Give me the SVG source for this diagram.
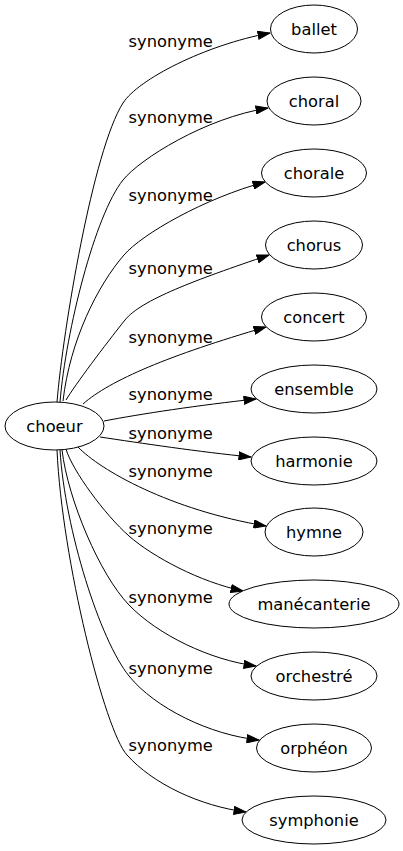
<svg xmlns="http://www.w3.org/2000/svg" width="403" height="851" viewBox="0 0 403 851">
<style>
  .node ellipse { fill: #ffffff; stroke: #000000; stroke-width: 1; }
  .node text { font-family: "DejaVu Sans", sans-serif; font-size: 16.3px; fill: #000000; text-anchor: middle; }
  .edges path { fill: none; stroke: #000000; stroke-width: 1; marker-end: url(#arrow); }
  .edges text { font-family: "DejaVu Sans", sans-serif; font-size: 16.3px; fill: #000000; text-anchor: middle; }
</style>
<defs>
  <marker id="arrow" markerUnits="userSpaceOnUse" viewBox="0 0 13 9" markerWidth="13" markerHeight="9" refX="12.5" refY="4.5" orient="auto">
    <path d="M0.5,0.5 L12.5,4.5 L0.5,8.5 Z" fill="#000000" stroke="#000000" stroke-width="1"/>
  </marker>
</defs>
<rect width="403" height="851" fill="#ffffff"/>
<g class="edges" id="edges">
  <path d="M57,402 C63,330 93,150 123,103 C138,79.5 205,45 270,33"/>
  <text x="170.7" y="46.7">synonyme</text>
  <path d="M60,402 C66,330 95,215 123,180 C140,159 205,118 268,108"/>
  <text x="170.7" y="123.3">synonyme</text>
  <path d="M63,401 C70,340 98,285 124,255 C142,234 205,198 265,182"/>
  <text x="170.7" y="200.7">synonyme</text>
  <path d="M66,400 C75,385 105,345 125,320 C141,300 195,280 269,255"/>
  <text x="170.7" y="274">synonyme</text>
  <path d="M83,404 C110,380 170,355 266,327"/>
  <text x="170.7" y="343.3">synonyme</text>
  <path d="M104,421 C140,414 200,405 256,399"/>
  <text x="170.7" y="400">synonyme</text>
  <path d="M100,437 C140,443 200,452 251,457"/>
  <text x="170.7" y="439.3">synonyme</text>
  <path d="M78,447 C100,470 170,510 266,526"/>
  <text x="170.7" y="477.3">synonyme</text>
  <path d="M66,449 C72,470 105,515 129,536 C153,557 200,582 243,591"/>
  <text x="170.7" y="534">synonyme</text>
  <path d="M62,450 C68,500 100,575 129,605 C158,635 210,660 256,666"/>
  <text x="170.7" y="602.7">synonyme</text>
  <path d="M60,450 C65,530 100,640 129,676 C155,708 210,735 259,740"/>
  <text x="170.7" y="674">synonyme</text>
  <path d="M57,450 C62,560 105,731 127,755 C153,784 200,806 246,812"/>
  <text x="170.7" y="750.7">synonyme</text>
</g>
<g class="node" id="node-choeur"><ellipse cx="54.5" cy="426" rx="49.5" ry="24"/><text x="54.5" y="432">choeur</text></g>
<g class="node" id="node-ballet"><ellipse cx="314" cy="29" rx="43.5" ry="24"/><text x="314" y="35">ballet</text></g>
<g class="node" id="node-choral"><ellipse cx="314" cy="101" rx="47" ry="24"/><text x="314" y="107">choral</text></g>
<g class="node" id="node-chorale"><ellipse cx="314" cy="173" rx="52.5" ry="24"/><text x="314" y="179">chorale</text></g>
<g class="node" id="node-chorus"><ellipse cx="314" cy="245" rx="48.5" ry="24"/><text x="314" y="251">chorus</text></g>
<g class="node" id="node-concert"><ellipse cx="314" cy="317" rx="52.5" ry="24"/><text x="314" y="323">concert</text></g>
<g class="node" id="node-ensemble"><ellipse cx="314" cy="389" rx="63" ry="24"/><text x="314" y="395">ensemble</text></g>
<g class="node" id="node-harmonie"><ellipse cx="314" cy="461" rx="63" ry="24"/><text x="314" y="467">harmonie</text></g>
<g class="node" id="node-hymne"><ellipse cx="314" cy="532" rx="49" ry="24"/><text x="314" y="538">hymne</text></g>
<g class="node" id="node-manecanterie"><ellipse cx="314" cy="604" rx="85" ry="24"/><text x="314" y="610">manécanterie</text></g>
<g class="node" id="node-orchestre"><ellipse cx="314" cy="676" rx="63" ry="24"/><text x="314" y="682">orchestré</text></g>
<g class="node" id="node-orpheon"><ellipse cx="314" cy="748" rx="57.5" ry="24"/><text x="314" y="754">orphéon</text></g>
<g class="node" id="node-symphonie"><ellipse cx="314" cy="820" rx="72" ry="24"/><text x="314" y="826">symphonie</text></g>
</svg>
